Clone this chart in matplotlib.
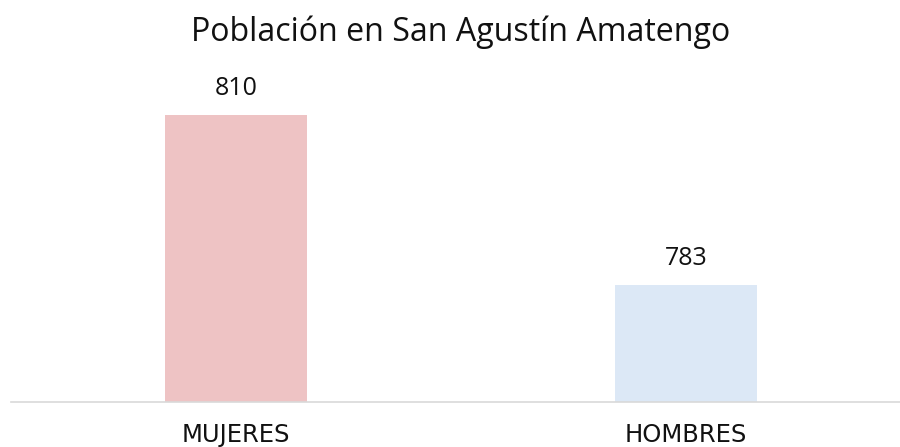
import matplotlib
matplotlib.use("Agg")
import matplotlib.pyplot as plt
import matplotlib.transforms as mtransforms

# ----------------------------
# Data
# ----------------------------
categories = ["MUJERES", "HOMBRES"]
values = [810, 783]
bar_colors = ["#EEC3C4", "#DCE8F6"]
title = "Población en San Agustín Amatengo"

plt.rcParams['font.family'] = ['Open Sans', 'DejaVu Sans']

fig = plt.figure(figsize=(9, 4.47), dpi=100)
ax = fig.add_axes([11 / 900, 45 / 447, 1.0, 322 / 447])

x = list(range(len(categories)))
bars = ax.bar(x, values, width=0.316, color=bar_colors)
ax.set_xlim(-0.5, 1.5)
ax.set_ylim(764.4, 815.6)

for b, v in zip(bars, values):
    ax.annotate(str(v), (b.get_x() + b.get_width() / 2, v),
                xytext=(0, 10), textcoords="offset points",
                ha="center", va="bottom", fontsize=18, color="#111111")

# category labels placed on a fixed baseline near the bottom edge
trans = mtransforms.blended_transform_factory(ax.transData, fig.transFigure)
for xi, cat in zip(x, categories):
    ax.text(xi, 1 - 442 / 447, cat, transform=trans, ha="center",
            va="baseline", fontsize=17.5, fontfamily=['DejaVu Sans'],
            color="#111111", clip_on=False)

ax.set_xticks([])
ax.set_yticks([])
for side in ["top", "right", "left"]:
    ax.spines[side].set_visible(False)
ax.spines["bottom"].set_color("#D9D9D9")
ax.spines["bottom"].set_linewidth(1.2)

fig.text(461 / 900, 1 - 32 / 447, title, ha="center", va="center",
         fontsize=23.1, color="#111111")

fig.savefig("out.png", dpi=100)
